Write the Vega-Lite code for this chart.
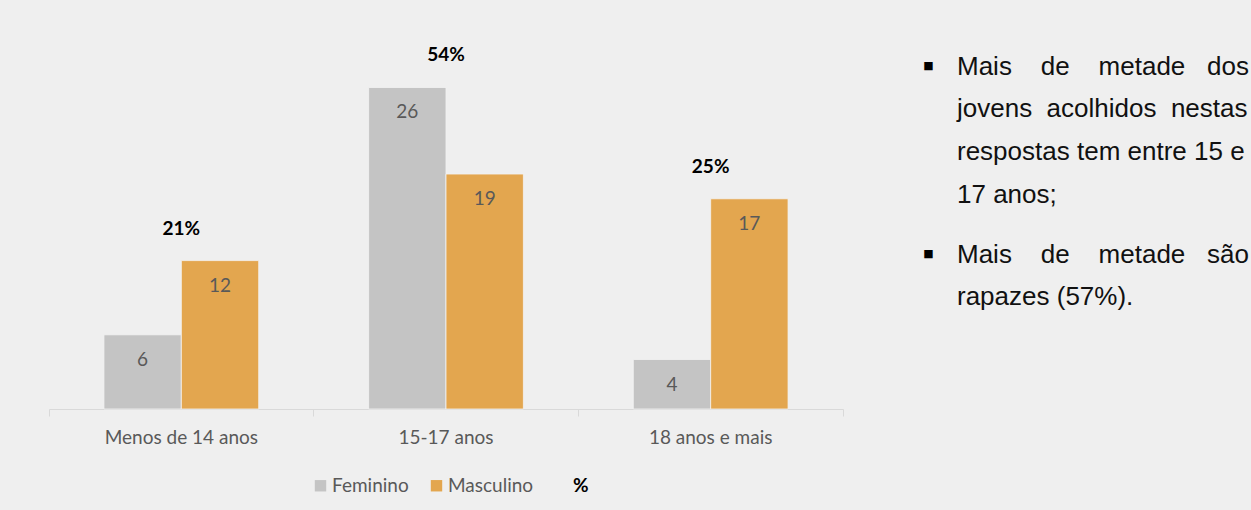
{
  "$schema": "https://vega.github.io/schema/vega-lite/v6.json",
  "background": "#efefef",
  "padding": {"left": 48, "top": 38, "right": 3, "bottom": 17},
  "config": {"view": {"stroke": null}, "font": "Lato"},
  "spacing": 56,
  "hconcat": [
    {
      "width": 794,
      "height": 371,
      "data": {"values": [
        {"faixa": "Menos de 14 anos", "sexo": "Feminino", "n": 6, "pct": "21%"},
        {"faixa": "Menos de 14 anos", "sexo": "Masculino", "n": 12, "pct": "21%"},
        {"faixa": "15-17 anos", "sexo": "Feminino", "n": 26, "pct": "54%"},
        {"faixa": "15-17 anos", "sexo": "Masculino", "n": 19, "pct": "54%"},
        {"faixa": "18 anos e mais", "sexo": "Feminino", "n": 4, "pct": "25%"},
        {"faixa": "18 anos e mais", "sexo": "Masculino", "n": 17, "pct": "25%"}
      ]},
      "encoding": {
        "x": {
          "field": "faixa", "type": "nominal",
          "sort": ["Menos de 14 anos", "15-17 anos", "18 anos e mais"],
          "scale": {"paddingInner": 0, "paddingOuter": 0},
          "axis": {
            "title": null, "labelAngle": 0, "bandPosition": 1, "tickExtra": true,
            "domainColor": "#d9d9d9", "tickColor": "#d9d9d9", "tickSize": 7,
            "labelColor": "#595959", "labelFont": "Lato", "labelFontSize": 19,
            "labelPadding": 12
          }
        },
        "y": {"field": "n", "type": "quantitative", "scale": {"domain": [0, 30]}, "axis": null}
      },
      "layer": [
        {
          "mark": {"type": "bar", "stroke": "#f4f4f4", "strokeWidth": 0.8},
          "encoding": {
            "xOffset": {"field": "sexo", "type": "nominal", "scale": {"paddingOuter": 0.71, "paddingInner": 0}},
            "color": {
              "field": "sexo", "type": "nominal",
              "scale": {"domain": ["Feminino", "Masculino", "%"], "range": ["#c4c4c4", "#e3a64f", "rgba(0,0,0,0)"]},
              "legend": {
                "title": null, "orient": "none", "direction": "horizontal",
                "legendX": 262, "legendY": 438, "padding": 0,
                "symbolType": "square", "symbolSize": 130, "symbolStrokeWidth": 0,
                "labelFont": "Lato", "labelFontSize": 19,
                "labelColor": {"expr": "datum.label === '%' ? '#000000' : '#595959'"},
                "labelFontWeight": {"expr": "datum.label === '%' ? 'bold' : 'normal'"},
                "labelOffset": 2, "columnPadding": 18
              }
            }
          }
        },
        {
          "mark": {"type": "text", "baseline": "middle", "dy": 25, "font": "Lato", "fontSize": 19, "color": "#595959"},
          "encoding": {
            "xOffset": {"field": "sexo", "type": "nominal"},
            "text": {"field": "n", "type": "quantitative"}
          }
        },
        {
          "transform": [{"aggregate": [{"op": "max", "field": "n", "as": "n"}], "groupby": ["faixa", "pct"]}],
          "mark": {"type": "text", "baseline": "middle", "dy": -32, "font": "Lato", "fontSize": 19, "fontWeight": "bold", "color": "#000000"},
          "encoding": {
            "text": {"field": "pct", "type": "nominal"}
          }
        }
      ]
    },
    {
      "width": 85.5,
      "height": 188,
      "data": {"values": [
        {"par": 1, "marca": "■", "texto": "Mais\u00a0\u00a0\u00a0\u00a0de\u00a0\u00a0\u00a0\u00a0metade\u00a0\u00a0\u00a0dos\njovens\u00a0\u00a0acolhidos\u00a0\u00a0nestas\nrespostas tem entre 15 e\n17 anos;"},
        {"par": 2, "marca": "■", "texto": "Mais\u00a0\u00a0\u00a0\u00a0de\u00a0\u00a0\u00a0\u00a0metade\u00a0\u00a0\u00a0são\nrapazes (57%)."}
      ]},
      "encoding": {
        "y": {"field": "par", "type": "ordinal", "scale": {"type": "point", "padding": 0}, "axis": null}
      },
      "layer": [
        {
          "mark": {"type": "text", "align": "center", "baseline": "middle", "dy": 27.5, "font": "DejaVu Sans", "fontSize": 11, "color": "#000000"},
          "encoding": {
            "x": {"datum": "marca", "type": "nominal", "scale": {"type": "point", "domain": ["marca", "texto"], "padding": 1}, "axis": null},
            "text": {"field": "marca"}
          }
        },
        {
          "mark": {"type": "text", "align": "left", "baseline": "top", "dy": 15.8, "lineBreak": "\n", "lineHeight": 42.7, "font": "Liberation Sans", "fontSize": 26, "color": "#111111"},
          "encoding": {
            "x": {"datum": "texto", "type": "nominal"},
            "text": {"field": "texto"}
          }
        }
      ]
    }
  ]
}
